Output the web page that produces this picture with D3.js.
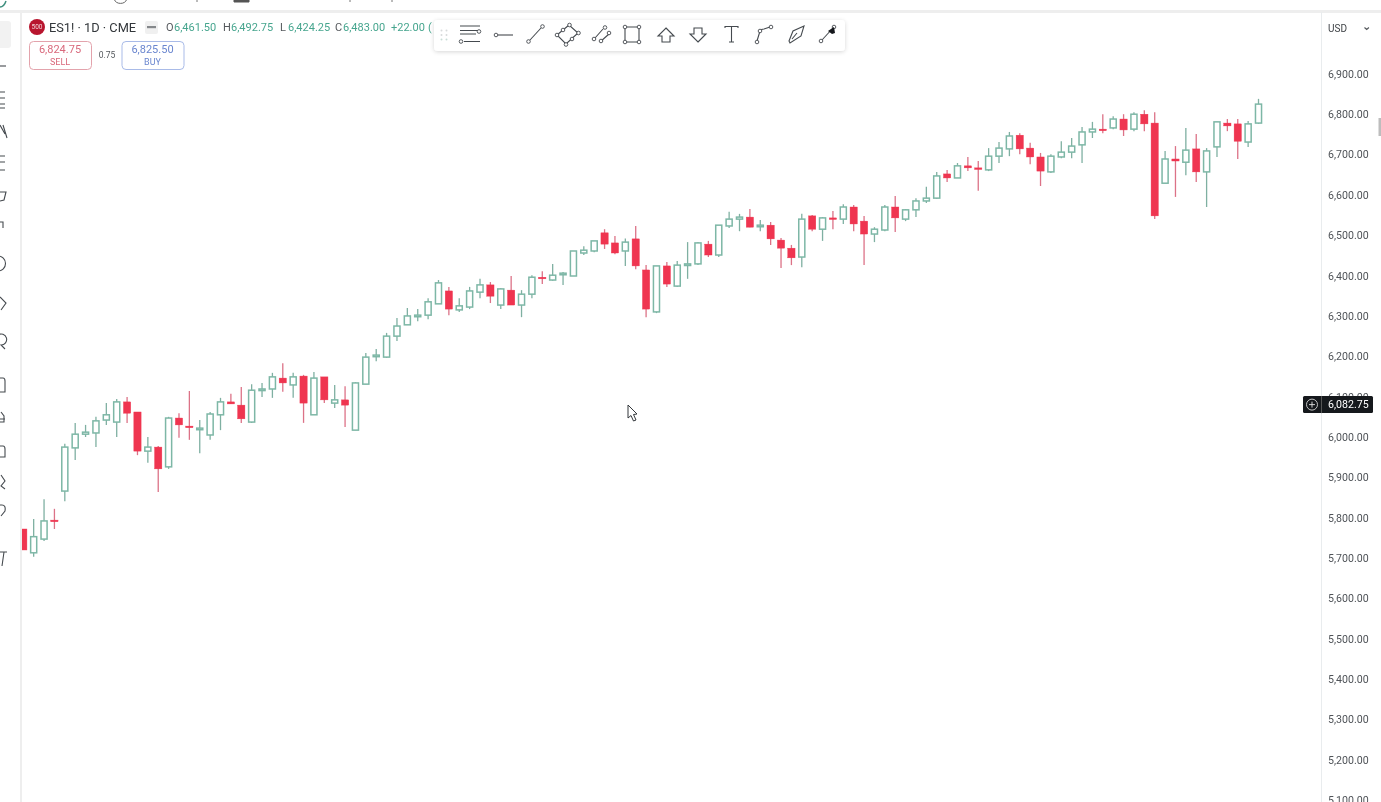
<!DOCTYPE html>
<html>
<head>
<meta charset="utf-8">
<script src="https://cdn.jsdelivr.net/npm/d3@7"></script>
<style>
    html, body { margin: 0; padding: 0; background: #fff; overflow: hidden; }
    svg { display: block; filter: blur(0.6px); font-family: Roboto, sans-serif; }
</style>
</head>
<body>
<div id="chart"></div>
<script>
// daily candles, oldest first
let candleOpen = [5772,5713,5747,5794,5866,5973,6007,6010,6042,6037,6087,6062,5965,5975,5926,6047,6027,6020,6005,6055,
    6087,6079,6037,6116,6119,6146,6129,6151,6055,6149,6084,6092,6017,6131,6201,6198,6250,6278,6300,6302,
    6330,6362,6315,6322,6359,6377,6327,6364,6327,6354,6396,6389,6404,6399,6456,6461,6506,6481,6461,6491,
    6414,6310,6424,6374,6426,6429,6478,6451,6523,6540,6545,6523,6525,6488,6468,6446,6548,6515,6543,6540,
    6570,6535,6503,6513,6570,6540,6563,6585,6592,6652,6642,6672,6667,6662,6696,6714,6748,6716,6694,6657,
    6694,6706,6724,6756,6763,6766,6788,6763,6800,6778,6629,6689,6681,6714,6657,6719,6778,6776,6731,6778]
let candleHigh = [5772,5797,5846,5822,5983,6035,6030,6050,6084,6094,6099,6062,6000,5978,6050,6059,6114,6042,6062,6097,
    6107,6124,6131,6134,6159,6183,6159,6154,6161,6149,6129,6126,6136,6208,6218,6258,6295,6320,6317,6344,
    6389,6372,6344,6372,6392,6384,6369,6399,6364,6401,6411,6429,6409,6461,6473,6486,6515,6498,6492,6523,
    6426,6424,6434,6436,6483,6483,6486,6525,6558,6553,6565,6538,6533,6493,6476,6553,6550,6545,6560,6577,
    6575,6548,6520,6575,6597,6565,6592,6620,6657,6662,6679,6694,6684,6716,6731,6756,6753,6729,6704,6701,
    6733,6741,6768,6781,6800,6795,6800,6805,6810,6805,6709,6721,6766,6751,6716,6781,6788,6788,6783,6838]
let candleLow = [5720,5703,5742,5772,5841,5943,6000,5975,6030,6000,6035,5955,5936,5864,5921,5998,5993,5960,5993,6017,
    6082,6035,6035,6099,6097,6112,6097,6035,6055,6084,6072,6025,6017,6131,6188,6196,6238,6278,6287,6292,
    6330,6302,6310,6317,6344,6332,6317,6327,6297,6344,6379,6387,6377,6399,6451,6458,6466,6453,6424,6416,
    6297,6307,6372,6372,6392,6426,6446,6446,6518,6510,6520,6510,6476,6419,6426,6421,6510,6486,6515,6528,
    6510,6426,6483,6510,6508,6535,6545,6580,6590,6632,6642,6659,6610,6659,6679,6696,6701,6676,6622,6654,
    6691,6691,6679,6741,6753,6763,6746,6758,6758,6540,6629,6595,6649,6632,6570,6694,6758,6689,6719,6776]
let candleClose = [5720,5753,5792,5791,5975,6007,6012,6040,6055,6087,6059,5965,5975,5921,6047,6030,6025,6022,6057,6087,
    6082,6045,6116,6119,6149,6134,6149,6084,6146,6092,6092,6079,6134,6198,6203,6250,6275,6300,6302,6335,
    6382,6317,6325,6362,6377,6349,6367,6327,6354,6396,6392,6401,6406,6461,6463,6486,6478,6456,6483,6424,
    6317,6424,6379,6426,6429,6481,6451,6525,6540,6545,6520,6525,6491,6468,6444,6540,6515,6543,6540,6570,
    6528,6503,6515,6570,6543,6563,6585,6592,6647,6642,6672,6667,6664,6696,6716,6746,6714,6694,6659,6696,
    6706,6721,6756,6763,6761,6788,6761,6800,6776,6548,6689,6684,6711,6657,6709,6781,6771,6733,6776,6825]
let axisTicks = [6900,6800,6700,6600,6500,6400,6300,6200,6100,6000,5900,5800,5700,5600,5500,5400,5300,5200,5100]
let legendLabels = ['O', 'H', 'L', 'C']
let legendValues = ['6,461.50', '6,492.75', '6,424.25', '6,483.00']
let legendLabelX = [166, 223, 280, 335]
let lastPrice = 6082.75

let width = 1381
let height = 802
let paneLeft = 22
let paneRight = 1321
let upColor = '#7db7a6'
let upWick = '#7fb0a2'
let downColor = '#ef3550'
let downWick = '#dc7287'
let iconColor = '#454a4f'

let svg = d3.select('#chart').append('svg')
    .attr('width', width)
    .attr('height', height)

svg.append('rect').attr('width', width).attr('height', height).attr('fill', '#fff')

let defs = svg.append('defs')
defs.append('clipPath').attr('id', 'pane')
    .append('rect').attr('x', paneLeft).attr('y', 12).attr('width', paneRight - paneLeft).attr('height', height)
defs.append('clipPath').attr('id', 'leftbar')
    .append('rect').attr('x', 0).attr('y', 12).attr('width', 8).attr('height', height)
let shadow = defs.append('filter').attr('id', 'shadow').attr('x', '-5%').attr('y', '-30%').attr('width', '110%').attr('height', '170%')
shadow.append('feDropShadow').attr('dx', 0).attr('dy', 1).attr('stdDeviation', 2).attr('flood-color', '#000').attr('flood-opacity', 0.16)

let x = d3.scaleBand()
    .domain(d3.range(candleOpen.length))
    .range([18.1, 1263.7])
    .paddingInner(0.3)
    .paddingOuter(0.15)
let y = d3.scaleLinear()
    .domain([6900, 5100])
    .range([73.85, 800.15])

// frame lines
svg.append('rect').attr('x', 0).attr('y', 10).attr('width', width).attr('height', 3).attr('fill', '#eeeeee')
svg.append('rect').attr('x', 20).attr('y', 12).attr('width', 2).attr('height', height).attr('fill', '#eeeeee')
svg.append('rect').attr('x', paneRight).attr('y', 12).attr('width', 1).attr('height', height).attr('fill', '#e9ecee')
svg.append('rect').attr('x', 1378.5).attr('y', 118).attr('width', 2.5).attr('height', 18).attr('fill', '#bdbdbd')

// candles
let candles = svg.append('g').attr('clip-path', 'url(#pane)')
    .selectAll('g')
    .data(d3.range(candleOpen.length))
    .enter()
    .append('g')

candles.append('line')
    .attr('x1', i => x(i) + x.bandwidth() / 2)
    .attr('x2', i => x(i) + x.bandwidth() / 2)
    .attr('y1', i => y(candleHigh[i]))
    .attr('y2', i => y(candleLow[i]))
    .attr('stroke', i => candleClose[i] < candleOpen[i] ? downWick : upWick)
    .attr('stroke-width', 1.3)

candles.append('rect')
    .attr('x', i => x(i) + (candleClose[i] < candleOpen[i] ? 0 : 0.6))
    .attr('width', i => x.bandwidth() - (candleClose[i] < candleOpen[i] ? 0 : 1.2))
    .attr('y', i => y(Math.max(candleOpen[i], candleClose[i])))
    .attr('height', i => Math.max(1.6, Math.abs(y(candleOpen[i]) - y(candleClose[i]))))
    .attr('fill', i => candleClose[i] < candleOpen[i] ? downColor : '#fff')
    .attr('stroke', i => candleClose[i] < candleOpen[i] ? downColor : upColor)
    .attr('stroke-width', i => candleClose[i] < candleOpen[i] ? 0.4 : 1.5)

// price axis
let axis = d3.axisRight(y)
    .tickValues(axisTicks)
    .tickSize(0)
    .tickPadding(0)
    .tickFormat(d3.format(',.2f'))
let axisG = svg.append('g')
    .attr('transform', `translate(1328, 0)`)
    .call(axis)
    .attr('font-size', 10.6)
    .attr('font-family', 'Roboto, sans-serif')
axisG.select('.domain').remove()
axisG.selectAll('text').attr('fill', '#4f5358')

// last price marker
let yLast = y(lastPrice) + 1
svg.append('rect').attr('x', 1303).attr('y', yLast - 8.5).attr('width', 70).attr('height', 17).attr('rx', 1.5).attr('fill', '#15181c')
svg.append('line').attr('x1', 1321.5).attr('x2', 1321.5).attr('y1', yLast - 8.5).attr('y2', yLast + 8.5).attr('stroke', '#555')
svg.append('circle').attr('cx', 1312).attr('cy', yLast).attr('r', 5.5).attr('fill', 'none').attr('stroke', '#d5d5d5').attr('stroke-width', 0.9)
svg.append('path').attr('d', `M1309,${yLast}h6M1312,${yLast - 3}v6`).attr('stroke', '#e5e5e5').attr('stroke-width', 0.9)
svg.append('text').attr('x', 1328).attr('y', yLast).attr('dy', '0.35em').attr('fill', '#fff')
    .attr('font-size', 10.6).text(d3.format(',.2f')(lastPrice))

// currency button
svg.append('text').attr('x', 1328).attr('y', 31.5).attr('fill', '#3f4347').attr('font-size', 10).text('USD')
svg.append('path').attr('d', 'M1364.5,27.5l2.2,2l2.2,-2').attr('fill', 'none').attr('stroke', '#55595d').attr('stroke-width', 1.2)

// header legend
svg.append('circle').attr('cx', 37).attr('cy', 27).attr('r', 8).attr('fill', '#b8152e')
svg.append('text').attr('x', 37).attr('y', 29.3).attr('text-anchor', 'middle').attr('fill', '#f3d3d8')
    .attr('font-size', 6.5).text('500')
svg.append('text').attr('x', 49).attr('y', 32).attr('fill', '#33373b').attr('font-size', 12.8).text('ES1! · 1D · CME')
svg.append('rect').attr('x', 145).attr('y', 21).attr('width', 13).attr('height', 13).attr('rx', 2).attr('fill', '#f0f0f0')
svg.append('rect').attr('x', 147).attr('y', 26).attr('width', 9).attr('height', 2.2).attr('fill', '#85888b')

legendLabels.forEach((d, i) => {
    svg.append('text').attr('x', legendLabelX[i]).attr('y', 31).attr('fill', '#55595d').attr('font-size', 11).text(d)
    svg.append('text').attr('x', legendLabelX[i] + 8).attr('y', 31).attr('fill', '#46a58e').attr('font-size', 11).text(legendValues[i])
})
svg.append('text').attr('x', 391).attr('y', 31).attr('fill', '#46a58e').attr('font-size', 11).text('+22.00')
svg.append('text').attr('x', 428).attr('y', 31).attr('fill', '#46a58e').attr('font-size', 11).text('(')

// sell and buy buttons
function tradeButton(bx, price, label, border, color) {
    svg.append('rect').attr('x', bx).attr('y', 41.5).attr('width', 62).attr('height', 28).attr('rx', 4)
        .attr('fill', '#fff').attr('stroke', border).attr('stroke-width', 1)
    svg.append('text').attr('x', bx + 30.5).attr('y', 53).attr('text-anchor', 'middle').attr('fill', color)
        .attr('font-size', 11).text(price)
    svg.append('text').attr('x', bx + 30.5).attr('y', 65).attr('text-anchor', 'middle').attr('fill', color)
        .attr('font-size', 9).text(label)
}
tradeButton(29.5, '6,824.75', 'SELL', '#e3a3ac', '#d9697c')
tradeButton(122, '6,825.50', 'BUY', '#a9bbe8', '#6a86cf')
svg.append('text').attr('x', 107).attr('y', 58).attr('text-anchor', 'middle').attr('fill', '#55595d').attr('font-size', 8.5).text('0.75')

// drawing toolbar
svg.append('rect').attr('x', 434).attr('y', 20).attr('width', 411).attr('height', 31).attr('rx', 4)
    .attr('fill', '#fff').attr('filter', 'url(#shadow)')
d3.range(3).forEach(r => d3.range(2).forEach(c => {
    svg.append('circle').attr('cx', 441.5 + c * 5).attr('cy', 30.5 + r * 4.5).attr('r', 1)
        .attr('fill', r == 2 ? '#c8dcd6' : '#d7dadb')
}))

let toolIcons = [
    // parallel lines with nodes
    { path: 'M460,26h20M460,30.5h20M460,34h16M464,41.5h16', nodes: [[479, 31.5], [461, 41.5]] },
    { path: 'M498,35h15', nodes: [[496, 35]] },
    { path: 'M530,40L541,28', nodes: [[528.5, 41.5], [542.5, 26.5]] },
    { path: 'M557,35L569,25L578,33L566,44Z', nodes: [[569.5, 25], [578.5, 33], [566, 44.5], [557, 35], [563, 30], [572, 39]] },
    { path: 'M595,38L603,29M600,42L609,34', nodes: [[594, 39], [605, 27.5], [601, 41], [609, 33]] },
    { path: 'M625,27h14v15h-14Z', nodes: [[625, 27], [639, 27], [625, 42], [639, 42]] },
    { path: 'M666,28L674,36H670V42H662V36H658Z', nodes: [] },
    { path: 'M698,42L706,34H702V28H694V34H690Z', nodes: [] },
    { path: 'M725,28V26.5H738V28M731.5,26.5V42M729,42H734', nodes: [] },
    { path: 'M757,41L760,31Q761,29 764,29L770,27', nodes: [[757, 42], [760, 31], [771, 27]] },
    { path: 'M789,41L793,31L804,26L801,36L790,43ZM792,39L797,33', nodes: [] },
    { path: 'M822,40L833,28', nodes: [[821, 41], [834, 27]] }
]
toolIcons.forEach(d => {
    svg.append('path').attr('d', d.path).attr('fill', 'none').attr('stroke', iconColor).attr('stroke-width', 1.1)
    d.nodes.forEach(n => {
        svg.append('circle').attr('cx', n[0]).attr('cy', n[1]).attr('r', 1.8)
            .attr('fill', '#fff').attr('stroke', iconColor).attr('stroke-width', 0.9)
    })
})
svg.append('path').attr('d', 'M832,34l-4,-3l6,-4l1,6z').attr('fill', '#15181c')

// cut off bits of the window above the chart
svg.append('path').attr('d', 'M0,7Q4,7 6,1').attr('fill', 'none').attr('stroke', '#3f8f7e').attr('stroke-width', 1.5)
svg.append('path').attr('d', 'M114,-1A7,7 0 0 0 127,-1').attr('fill', 'none').attr('stroke', '#666').attr('stroke-width', 1)
svg.append('path').attr('d', 'M234,0V2H249V0').attr('fill', '#555').attr('stroke', '#555')
svg.append('path').attr('d', 'M197,0V2M350,0V2M392,0V2').attr('stroke', '#777')

// left tool bar, only the edge of it shows
svg.append('rect').attr('x', -4).attr('y', 21).attr('width', 15).attr('height', 27).attr('rx', 3).attr('fill', '#f2f2f2')
let leftPaths = [
    'M0,66H6',
    'M0,92H5M0,98H5M0,104H5M0,108H5',
    'M0,125L5,134M3,125L7,138',
    'M0,156H5M0,162H5M0,170H5',
    'M0,192H6L4,200L0,201',
    'M0,222H3V228',
    'M-2,256A7.5,7.5 0 1 1 -2,271',
    'M0,297L6,303L1,310',
    'M-2,335A5.5,5.5 0 1 1 1,345L5,349',
    'M0,378H3Q5,378 5,381V392H0',
    'M1,412L4,416V422H0M0,419H5',
    'M0,446H3Q5,446 5,449V457H0',
    'M1,475L5,481L1,486L5,489',
    'M0,505H2Q6,505 5,511L1,516',
    'M0,552H7M4,552L2,566'
]
svg.append('g').attr('clip-path', 'url(#leftbar)')
    .selectAll('path')
    .data(leftPaths)
    .enter()
    .append('path')
    .attr('d', d => d)
    .attr('fill', 'none')
    .attr('stroke', iconColor)
    .attr('stroke-width', 1.1)

// mouse pointer
svg.append('path')
    .attr('d', 'M628,405L628,418L631,415.5L633.5,421L636,420L633.5,414.5L637,414Z')
    .attr('fill', '#fff').attr('stroke', '#33373b').attr('stroke-width', 1)
</script>
</body>
</html>
